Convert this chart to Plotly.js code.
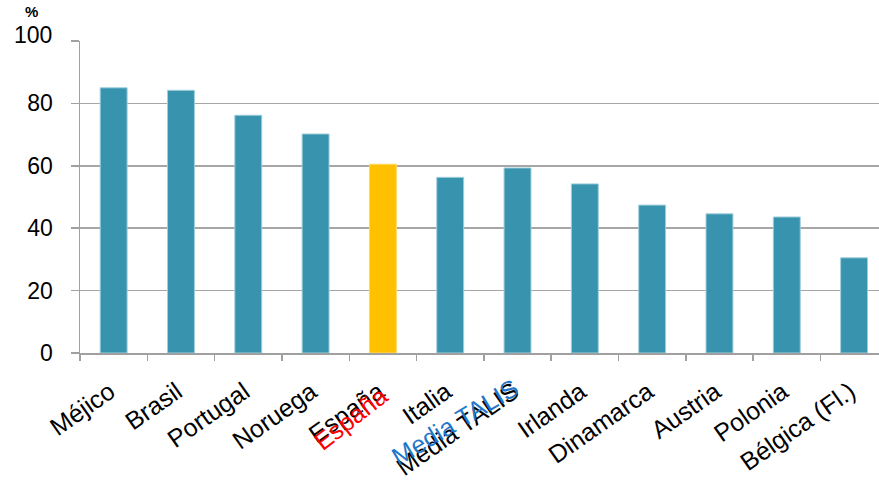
<!DOCTYPE html>
<html>
<head>
<meta charset="utf-8">
<script src="https://cdn.plot.ly/plotly-3.0.1.min.js"></script>
<style>html,body{margin:0;padding:0;background:#fff;}#chart{width:879px;height:482px;}</style>
</head>
<body>
<div id="chart"></div>
<script>
var categories = ["Méjico", "Brasil", "Portugal", "Noruega", "España", "Italia", "Media TALIS", "Irlanda", "Dinamarca", "Austria", "Polonia", "Bélgica (Fl.)"];
var values = [85.0, 84.2, 76.2, 70.2, 60.5, 56.3, 59.3, 54.2, 47.4, 44.6, 43.6, 30.5];
var highlight = "España";
var overlayLabels = [
  {label: "España", color: "#FF0000", angle: -38, dx: 13, dy: -25},
  {label: "Media TALIS", color: "#1F77C8", angle: -31, dx: 8, dy: -18}
];
var yTicks = [0, 20, 40, 60, 80, 100];
var yTickText = ["0", "20", "40", "60", "80", "100"];

var FONT = "Liberation Sans, Arial, sans-serif";
var colors = categories.map(function(c){ return c === highlight ? "#FFC000" : "#3793AE"; });
var lineColors = categories.map(function(c){ return c === highlight ? "#FFD966" : "#9FCFDC"; });

var trace = {
  type: "bar",
  x: categories,
  y: values,
  width: 0.4,
  marker: {color: colors, line: {color: lineColors, width: 1}},
  hoverinfo: "x+y"
};

var annotations = overlayLabels.map(function(o){
  return {
    x: o.label, xref: "x", y: 0, yref: "paper",
    text: o.label, showarrow: false, textangle: o.angle,
    xanchor: "right", yanchor: "top",
    xshift: o.dx, yshift: o.dy,
    font: {family: FONT, size: 25, color: o.color}
  };
});
// top y label drawn slightly raised, as in the reference
annotations.push({
  x: 0, xref: "paper", xanchor: "right", xshift: -26,
  y: 100, yref: "y", yanchor: "middle", yshift: 6,
  text: yTickText[yTickText.length - 1], showarrow: false,
  font: {family: FONT, size: 23, color: "#000"}
});
annotations.push({
  x: 0, xref: "paper", xanchor: "left", xshift: -57,
  y: 1, yref: "paper", yanchor: "bottom", yshift: 19,
  text: "<b>%</b>", showarrow: false,
  font: {family: FONT, size: 15, color: "#000"}
});

var layout = {
  width: 879, height: 482,
  margin: {l: 80, r: 0, t: 41, b: 129},
  paper_bgcolor: "#fff", plot_bgcolor: "#fff",
  showlegend: false,
  xaxis: {
    type: "category",
    range: [-0.5, 11.37],
    tickson: "boundaries",
    ticks: "outside", ticklen: 6, tickcolor: "#A0A0A0", tickwidth: 1.5,
    showline: true, linecolor: "#A0A0A0", linewidth: 1.5,
    showgrid: false,
    tickangle: -35,
    ticklabelstandoff: 13,
    ticklabelshift: -4,
    tickfont: {family: FONT, size: 25, color: "#000"},
    automargin: false
  },
  yaxis: {
    range: [0, 100],
    tickvals: yTicks,
    ticktext: yTickText.map(function(t, i){ return i === yTickText.length - 1 ? "" : t; }),
    ticks: "outside", ticklen: 8, tickcolor: "#A0A0A0", tickwidth: 1.5,
    ticklabelstandoff: 13,
    showline: true, linecolor: "#A0A0A0", linewidth: 1.5,
    showgrid: true, gridcolor: "#A6A6A6", gridwidth: 1.5,
    zeroline: false,
    tickfont: {family: FONT, size: 23, color: "#000"},
    automargin: false
  },
  annotations: annotations
};

Plotly.newPlot("chart", [trace], layout, {displayModeBar: false, staticPlot: true});
</script>
</body>
</html>
